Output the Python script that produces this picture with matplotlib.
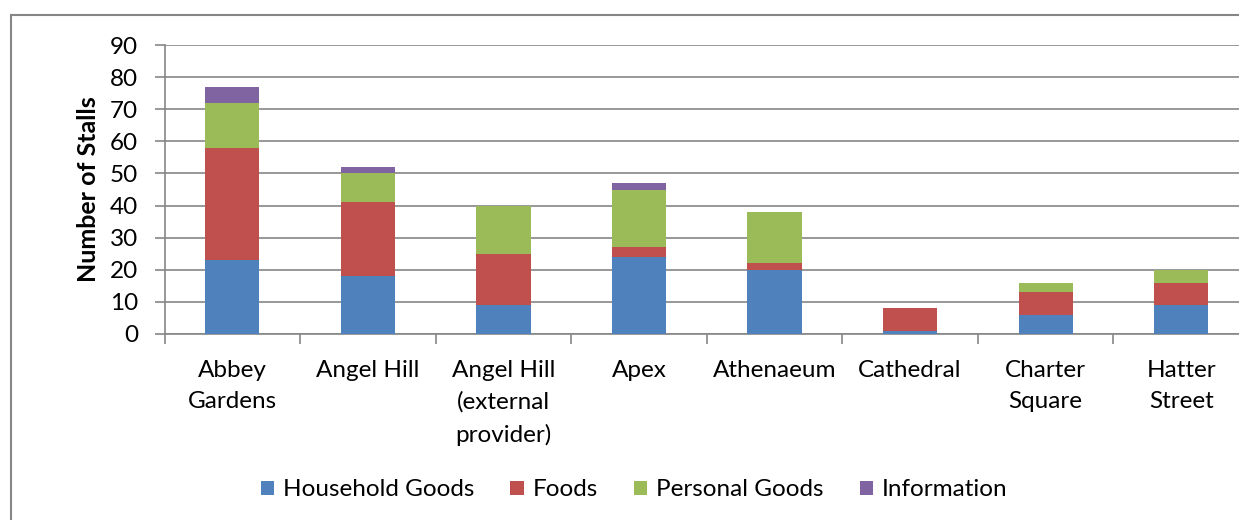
import matplotlib
matplotlib.use("Agg")
from matplotlib import pyplot as plt
from matplotlib.lines import Line2D
import numpy as np

plt.rcParams['font.family'] = ['Lato', 'DejaVu Sans']

locations = ["Abbey\nGardens", "Angel Hill", "Angel Hill\n(external\nprovider)", "Apex",
             "Athenaeum", "Cathedral", "Charter\nSquare", "Hatter\nStreet"]
household = [23, 18, 9, 24, 20, 1, 6, 9]
foods = [35, 23, 16, 3, 2, 7, 7, 7]
personal = [14, 9, 15, 18, 16, 0, 3, 4]
information = [5, 2, 0, 2, 0, 0, 0, 0]

series = [("Household Goods", household, "#4F81BD"),
          ("Foods", foods, "#C0504D"),
          ("Personal Goods", personal, "#9BBB59"),
          ("Information", information, "#8064A2")]

grey = "#868686"

fig = plt.figure(figsize=(12.39, 5.20), dpi=100)
ax = fig.add_axes([164.5 / 1239, 1 - 334 / 520, (1249 - 164.5) / 1239, (334 - 45) / 520])

x = np.arange(len(locations))
base = np.zeros(len(locations))
for name, vals, col in series:
    ax.bar(x, vals, 0.4, bottom=base, color=col, label=name, zorder=3)
    base += np.array(vals)

ax.set_xlim(-0.5, len(locations) - 0.5)
ax.set_ylim(0, 90)
ax.set_yticks(range(0, 91, 10))
ax.yaxis.grid(True, color=grey, linewidth=1.2, zorder=0)
ax.set_axisbelow(True)

# category ticks sit between the bars
ax.set_xticks(x)
ax.set_xticklabels(locations, fontsize=17.5, linespacing=1.6, va="top")
ax.set_xticks(np.arange(-0.5, len(locations)), minor=True)
ax.tick_params(axis="x", which="major", length=0, pad=18.5)
ax.tick_params(axis="x", which="minor", length=7, width=1.2, color=grey, direction="out")
ax.tick_params(axis="y", length=7, width=1.2, color=grey, labelsize=17.5, pad=12)

for side in ["top", "right"]:
    ax.spines[side].set_visible(False)
for side in ["left", "bottom"]:
    ax.spines[side].set_color(grey)
    ax.spines[side].set_linewidth(1.2)

ax.set_ylabel("Number of Stalls", fontsize=18, fontweight="bold", labelpad=7)

fig.legend(loc="center", bbox_to_anchor=(634 / 1239, 1 - 490 / 520), ncol=4, frameon=False,
           fontsize=17.5, handlelength=0.55, handleheight=0.55, handletextpad=0.35,
           columnspacing=1.5)

# chart frame: only the top and left edges fall inside the image
fig.add_artist(Line2D([10.5 / 1239, 1.0], [1 - 15 / 520, 1 - 15 / 520],
                      color=grey, linewidth=1.5))
fig.add_artist(Line2D([10.5 / 1239, 10.5 / 1239], [0.0, 1 - 15 / 520],
                      color=grey, linewidth=1.5))

fig.savefig("out.png", dpi=100)
